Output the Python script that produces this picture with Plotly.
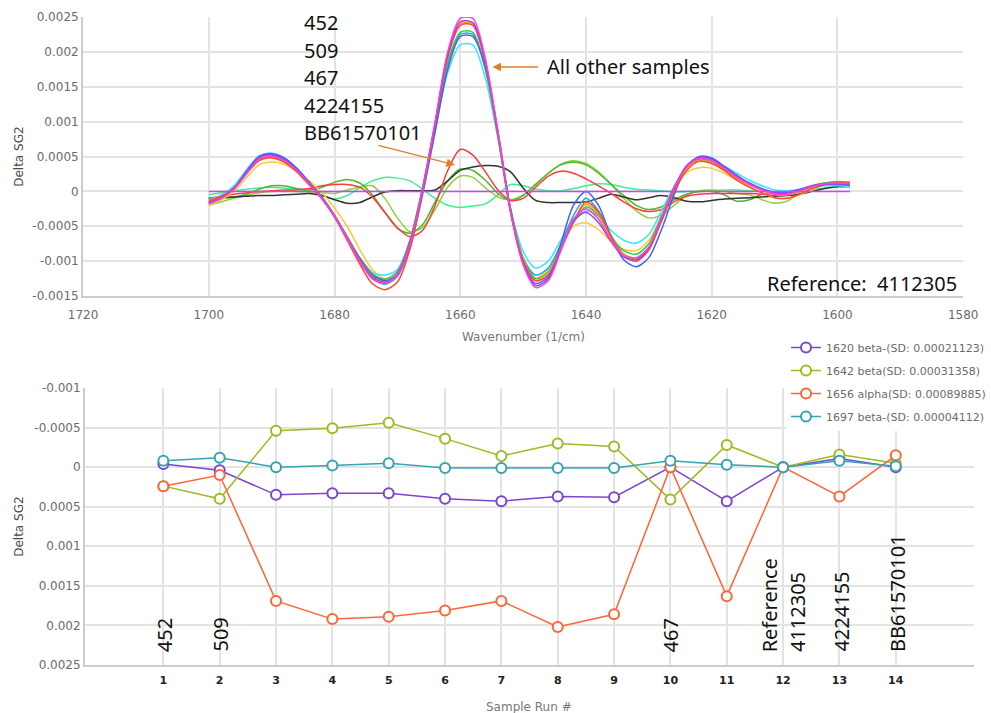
import plotly.graph_objects as go

W, H = 991, 713


def px(x):
    return x / W


def py(y):
    return 1 - y / H


# ---------------- top chart data (Delta SG2, in units of 1e-4) ----------------
wavenumber = [1700, 1698, 1696, 1694, 1692, 1690, 1688, 1686, 1684, 1682,
              1680, 1678, 1676, 1674, 1672, 1670, 1668, 1666, 1664, 1662,
              1660, 1658, 1656, 1654, 1652, 1650, 1648, 1646, 1644, 1642,
              1640, 1638, 1636, 1634, 1632, 1630, 1628, 1626, 1624, 1622,
              1620, 1618, 1616, 1614, 1612, 1610, 1608, 1606, 1604, 1602,
              1600, 1598]

# outlier samples (452, 509, 467, 4224155, BB61570101)
out_red = [-1.0, -0.7, -0.4, -0.2, 0.0, 0.1, 0.2, 0.2, 0.4, 0.8,
           1.0, 1.0, 0.6, -0.8, -3.0, -5.2, -6.5, -5.6, -2.0, 3.0,
           6.0, 5.2, 2.8, 0.2, -1.3, -1.0, 0.6, 2.2, 2.9, 2.6,
           1.8, 0.8, -0.3, -1.5, -2.5, -2.9, -2.6, -1.5, -0.7, -0.4,
           -0.3, -0.3, -0.3, -0.3, -0.4, -0.6, -0.5, 0.0, 0.6, 1.0,
           1.2, 1.2]
out_black = [-1.0, -0.9, -0.8, -0.7, -0.6, -0.6, -0.5, -0.4, -0.3, -0.6,
             -1.2, -1.7, -1.6, -0.8, -0.1, 0.1, 0.1, 0.1, 0.2, 1.5,
             3.0, 3.5, 3.7, 3.6, 2.8, 0.5, -1.3, -1.6, -1.6, -1.6,
             -1.5, -1.0, -0.4, -0.8, -1.2, -0.9, -0.6, -0.9, -1.4, -1.5,
             -1.3, -1.1, -1.0, -0.9, -0.8, -0.7, -0.6, -0.4, 0.0, 0.4,
             0.7, 0.8]
out_green = [-1.2, -1.0, -0.8, -0.4, 0.3, 0.8, 0.8, 0.4, 0.2, 0.6,
             1.3, 1.7, 1.2, -0.5, -3.0, -5.3, -6.0, -4.8, -1.5, 1.5,
             3.2, 3.0, 1.6, -0.3, -1.3, -0.6, 1.0, 2.6, 3.8, 4.2,
             3.8, 2.6, 1.0, -0.6, -2.0, -2.6, -2.2, -1.2, -0.4, 0.0,
             0.0, -0.5, -1.4, -1.2, -0.4, -0.2, -0.5, 0.1, 0.8, 1.2,
             1.4, 1.3]
out_lime = [-2.0, -1.5, -1.0, -0.6, -0.2, 0.0, 0.0, 0.0, -0.1, -0.2,
            -0.3, 0.2, 0.6, 0.8, -1.0, -3.8, -5.8, -5.2, -2.6, 0.6,
            2.2, 2.0, 0.5, -0.8, -1.2, -0.5, 1.0, 2.6, 3.9, 4.4,
            4.0, 2.8, 1.0, -1.0, -2.8, -3.8, -3.4, -2.0, -0.6, 0.1,
            0.2, 0.0, -0.3, -0.5, -1.2, -1.7, -1.4, -0.2, 0.6, 1.1,
            1.3, 1.3]
out_mint = [-0.5, -0.2, 0.1, 0.3, 0.5, 0.6, 0.5, 0.3, 0.0, -0.6,
            -1.1, -0.6, 0.5, 1.5, 2.0, 1.9, 1.5, 0.3, -1.0, -2.0,
            -2.3, -2.1, -1.8, -0.5, 1.0, 0.8, 0.3, 0.1, 0.1, 0.4,
            0.8, 1.1, 1.0, 0.6, 0.3, 0.2, 0.1, -0.1, 0.0, 0.0,
            0.1, 0.2, 0.2, 0.1, 0.0, 0.0, 0.0, 0.1, 0.3, 0.5,
            0.6, 0.6]
# reference sample 4112305 (difference to itself)
ref_violet = [0.0, 0.0, 0.0, 0.0, 0.0, 0.0, 0.0, 0.0, 0.0, 0.0,
              0.0, 0.0, 0.0, 0.0, 0.0, 0.0, 0.0, 0.0, 0.0, 0.0,
              0.0, 0.0, 0.0, 0.0, 0.0, 0.0, 0.0, 0.0, 0.0, 0.0,
              0.0, 0.0, 0.0, 0.0, 0.0, 0.0, 0.0, 0.0, 0.0, 0.0,
              0.0, 0.0, 0.0, 0.0, 0.0, 0.0, 0.0, 0.0, 0.0, 0.0,
              0.0, 0.0]

# all other samples
main_magenta = [-1.8, -1.0, 0.3, 2.5, 4.6, 5.0, 4.4, 3.0, 1.1, -1.0,
                -3.6, -6.8, -10.0, -12.5, -13.2, -12.0, -7.5, 0.3, 10.0, 20.0,
                24.8, 24.8, 19.0, 8.5, -3.0, -10.5, -13.8, -12.8, -8.5, -4.0,
                -2.5, -4.0, -7.0, -9.2, -9.5, -8.0, -3.8, 0.4, 3.5, 4.7,
                4.4, 3.3, 2.0, 1.0, 0.2, -0.4, -0.4, 0.1, 0.7, 1.1,
                1.2, 1.1]
main_purple = [-1.6, -0.9, 0.4, 2.8, 4.9, 5.3, 4.6, 3.1, 1.1, -1.0,
               -3.6, -6.7, -9.8, -12.3, -13.0, -11.8, -7.2, 0.4, 9.8, 19.6,
               24.3, 24.2, 18.6, 8.3, -2.8, -10.2, -13.2, -12.2, -8.3, -4.3,
               -3.0, -4.5, -7.2, -9.4, -9.8, -8.2, -3.9, 0.5, 3.7, 4.9,
               4.6, 3.5, 2.2, 1.1, 0.3, -0.2, -0.2, 0.2, 0.7, 1.0,
               1.1, 1.0]
main_blue = [-1.7, -1.0, 0.4, 2.9, 5.0, 5.4, 4.8, 3.3, 1.3, -0.8,
             -3.4, -6.5, -9.6, -12.0, -12.8, -12.0, -8.0, -0.5, 8.5, 17.5,
             22.2, 22.2, 17.8, 8.6, -2.6, -10.3, -13.5, -12.5, -7.5, -2.0,
             0.0, -2.0, -6.5, -9.8, -10.8, -9.5, -5.5, -0.5, 3.4, 5.0,
             4.8, 3.6, 2.3, 1.2, 0.4, -0.1, -0.1, 0.3, 0.8, 1.1,
             1.1, 1.0]
main_red = [-1.3, -0.7, 0.5, 2.6, 4.4, 4.8, 4.2, 2.8, 0.9, -1.1,
            -3.7, -7.0, -10.4, -13.2, -14.1, -13.0, -8.3, 0.0, 9.6, 19.2,
            23.8, 23.8, 18.4, 8.0, -3.0, -10.0, -12.8, -12.0, -8.4, -4.4,
            -1.5, -3.0, -6.5, -9.3, -10.0, -8.4, -4.2, 0.0, 3.0, 4.3,
            4.0, 3.0, 1.6, 0.6, -0.2, -0.9, -1.0, -0.4, 0.4, 1.0,
            1.2, 1.2]
main_orange = [-1.4, -0.8, 0.4, 2.6, 4.5, 4.9, 4.3, 2.9, 1.0, -1.0,
               -3.5, -6.6, -9.8, -12.2, -13.0, -11.9, -7.4, 0.3, 9.8, 19.4,
               24.0, 24.0, 18.5, 8.3, -2.7, -9.8, -12.8, -11.8, -8.2, -4.3,
               -1.8, -3.3, -6.6, -9.0, -9.6, -8.0, -3.8, 0.3, 3.3, 4.4,
               4.1, 3.0, 1.8, 0.9, 0.2, -0.4, -0.5, 0.0, 0.6, 1.0,
               1.2, 1.2]
main_yellow = [-2.0, -1.2, 0.0, 2.0, 3.8, 4.2, 3.9, 2.9, 1.5, -0.2,
               -2.4, -5.0, -8.3, -11.2, -12.5, -12.0, -7.8, 0.0, 9.6, 19.3,
               24.0, 23.9, 18.3, 8.0, -2.8, -9.8, -12.5, -11.0, -7.8, -5.0,
               -4.5, -5.5, -7.2, -8.3, -8.5, -7.0, -3.6, 0.2, 2.7, 3.4,
               3.3, 2.6, 1.6, 0.6, -0.2, -0.9, -1.0, -0.5, 0.3, 0.9,
               1.1, 1.1]
main_green = [-1.5, -0.8, 0.5, 2.8, 4.8, 5.2, 4.5, 3.0, 1.0, -1.0,
              -3.5, -6.5, -9.5, -11.8, -12.6, -11.5, -7.0, 0.5, 9.5, 18.5,
              22.8, 22.8, 17.5, 8.0, -2.5, -9.5, -12.5, -11.5, -8.0, -4.5,
              -2.2, -3.5, -6.5, -8.5, -9.0, -7.5, -3.5, 0.5, 3.5, 4.6,
              4.3, 3.2, 2.0, 1.0, 0.3, -0.3, -0.3, 0.2, 0.8, 1.2,
              1.3, 1.2]
main_cyan = [-1.2, -0.5, 0.8, 3.1, 5.1, 5.5, 4.8, 3.3, 1.2, -0.9,
             -3.4, -6.5, -9.5, -11.6, -12.0, -11.2, -7.0, 0.3, 8.8, 17.0,
             21.0, 21.0, 16.2, 7.5, -2.4, -8.6, -11.0, -10.0, -7.0, -4.0,
             -2.8, -3.6, -5.6, -7.0, -7.4, -6.2, -2.8, 0.7, 3.4, 4.4,
             4.4, 3.6, 2.6, 1.6, 0.8, 0.2, 0.1, 0.3, 0.6, 0.8,
             0.8, 0.7]
main_azure = [-1.6, -0.9, 0.4, 2.8, 4.9, 5.3, 4.7, 3.2, 1.2, -0.9,
              -3.5, -6.7, -10.0, -12.5, -13.3, -12.2, -7.6, 0.0, 9.2, 18.2,
              22.5, 22.5, 17.5, 8.0, -2.6, -9.6, -12.0, -11.0, -7.6, -3.5,
              -1.0, -2.8, -6.3, -9.0, -9.6, -8.2, -4.3, 0.0, 3.3, 4.8,
              4.6, 3.5, 2.2, 1.1, 0.3, -0.2, -0.2, 0.2, 0.7, 1.0,
              1.0, 0.9]

spectra = [
    (out_mint, "#3df08f"),
    (out_lime, "#8fd13a"),
    (out_green, "#49b92e"),
    (out_black, "#333333"),
    (out_red, "#ff3b3b"),
    (main_yellow, "#ffc933"),
    (main_cyan, "#3ae3ff"),
    (main_azure, "#2aa3f0"),
    (main_green, "#36c846"),
    (main_blue, "#3f63f5"),
    (main_orange, "#ff9a1a"),
    (main_red, "#ff4a2a"),
    (main_purple, "#9a40ff"),
    (main_magenta, "#ff3fd0"),
    (ref_violet, "#cc44ff"),
]

# ---------------- bottom chart data ----------------
sample_run = [1, 2, 3, 4, 5, 6, 7, 8, 9, 10, 11, 12, 13, 14]
beta_1620 = [-0.00004, 0.00004, 0.00035, 0.00033, 0.00033, 0.00040, 0.00043,
             0.00037, 0.00038, 0.00000, 0.00043, 0.00000, -0.00011, 0.00000]
beta_1642 = [0.00024, 0.00040, -0.00046, -0.00049, -0.00056, -0.00036, -0.00014,
             -0.00030, -0.00026, 0.00041, -0.00028, 0.00000, -0.00016, -0.00005]
alpha_1656 = [0.00024, 0.00010, 0.00169, 0.00192, 0.00189, 0.00181, 0.00169,
              0.00202, 0.00186, 0.00000, 0.00163, 0.00000, 0.00037, -0.00015]
beta_1697 = [-0.00008, -0.00012, 0.00000, -0.00002, -0.00005, 0.00001, 0.00001,
             0.00001, 0.00001, -0.00008, -0.00003, 0.00000, -0.00008, -0.00001]

bottom_series = [
    ("1620 beta-(SD: 0.00021123)", beta_1620, "#7d44cc"),
    ("1642 beta(SD: 0.00031358)", beta_1642, "#9cbb22"),
    ("1656 alpha(SD: 0.00089885)", alpha_1656, "#ff6536"),
    ("1697 beta-(SD: 0.00004112)", beta_1697, "#34a3b3"),
]

top_xticks = [1720, 1700, 1680, 1660, 1640, 1620, 1600, 1580]
top_yticks = [0.0025, 0.002, 0.0015, 0.001, 0.0005, 0, -0.0005, -0.001, -0.0015]
top_ylabels = ["0.0025", "0.002", "0.0015", "0.001", "0.0005", "0",
               "-0.0005", "-0.001", "-0.0015"]
bot_yticks = [-0.001, -0.0005, 0, 0.0005, 0.001, 0.0015, 0.002, 0.0025]
bot_ylabels = ["-0.001", "-0.0005", "0", "0.0005", "0.001", "0.0015",
               "0.002", "0.0025"]

fig = go.Figure()

for vals, color in spectra:
    fig.add_trace(go.Scatter(
        x=wavenumber, y=[v * 1e-4 for v in vals], mode="lines",
        line=dict(color=color, width=1.5, shape="spline", smoothing=0.8),
        xaxis="x", yaxis="y", showlegend=False, hoverinfo="skip"))

for i, (name, vals, color) in enumerate(bottom_series):
    fig.add_trace(go.Scatter(
        x=sample_run, y=vals, mode="lines+markers", name=name,
        line=dict(color=color, width=1.5),
        marker=dict(symbol="circle", size=10, color="white",
                    line=dict(color=color, width=2)),
        xaxis="x2", yaxis="y2", legendgroup=f"g{i}"))

GRID = "#e3e3e3"
AXL = "#cccccc"
TICKF = dict(family="DejaVu Sans", size=12, color="#6b6b6b")
NOTICK = "rgba(0,0,0,0)"

fig.update_layout(
    width=W, height=H,
    margin=dict(l=0, r=0, t=0, b=0),
    paper_bgcolor="white", plot_bgcolor="white",
    xaxis=dict(domain=[px(84), px(974)], range=[1720, 1580], anchor="y",
               tickvals=top_xticks, ticktext=[str(t) for t in top_xticks],
               showgrid=True, gridcolor=GRID, gridwidth=1.5, zeroline=False,
               showline=True, linecolor=AXL, linewidth=2,
               tickfont=TICKF, automargin=False,
               ticks="outside", ticklen=7, tickcolor=NOTICK),
    yaxis=dict(domain=[py(296), py(17)], range=[-0.0015, 0.0025], anchor="x",
               tickvals=top_yticks, ticktext=top_ylabels,
               showgrid=True, gridcolor=GRID, gridwidth=1.5, zeroline=False,
               showline=True, linecolor=AXL, linewidth=2,
               tickfont=TICKF, automargin=False, ticks=""),
    xaxis2=dict(domain=[px(86), px(985)], range=[-0.39, 15.39], anchor="y2",
                tickvals=sample_run, ticktext=[str(s) for s in sample_run],
                showgrid=True, gridcolor=GRID, gridwidth=1.5, zeroline=False,
                showline=True, linecolor=AXL, linewidth=2,
                tickfont=dict(family="DejaVu Sans", size=11, color="#222222",
                              weight="bold"),
                automargin=False, ticks="outside", ticklen=4,
                tickcolor=NOTICK),
    yaxis2=dict(domain=[py(665), py(388)], range=[0.0025, -0.001], anchor="x2",
                tickvals=bot_yticks, ticktext=bot_ylabels,
                showgrid=True, gridcolor=GRID, gridwidth=1.5, zeroline=False,
                showline=True, linecolor=AXL, linewidth=2,
                tickfont=TICKF, automargin=False, ticks=""),
    legend=dict(x=px(795), y=py(333), xanchor="left", yanchor="top",
                bgcolor="white", borderwidth=0, tracegroupgap=4,
                font=dict(family="DejaVu Sans", size=11, color="#6b6b6b")),
    showlegend=True,
)

ann = []
AX_T = dict(family="DejaVu Sans", size=12, color="#4a4a4a")
ann.append(dict(x=px(19), y=py(157), text="Delta SG2", textangle=-90,
                font=AX_T, showarrow=False))
ann.append(dict(x=px(19), y=py(527), text="Delta SG2", textangle=-90,
                font=AX_T, showarrow=False))
ann.append(dict(x=px(529), y=py(337), text="Wavenumber (1/cm)",
                font=dict(family="DejaVu Sans", size=12, color="#777777"),
                showarrow=False))
ann.append(dict(x=px(535), y=py(707), text="Sample Run #",
                font=dict(family="DejaVu Sans", size=12, color="#777777"),
                showarrow=False))

BIG = dict(family="Noto Sans", size=20, color="#111111")
outlier_names = ["452", "509", "467", "4224155", "BB61570101"]
name_y = [23, 51, 78, 105, 132]
for nm, yy in zip(outlier_names, name_y):
    ann.append(dict(x=px(305), y=py(yy), text=nm, xanchor="left",
                    yanchor="middle", font=BIG, showarrow=False))
ann.append(dict(x=px(551), y=py(67), text="All other samples", xanchor="left",
                yanchor="middle", font=BIG, showarrow=False))
ann.append(dict(x=px(970), y=py(283), text="Reference:  4112305",
                xanchor="right", yanchor="middle", font=BIG, showarrow=False))

ARROW = "#df7f2c"
ann.append(dict(x=px(498), y=py(67), ax=47, ay=0, text="", showarrow=True,
                arrowhead=2, arrowsize=1.3, arrowwidth=1.3, arrowcolor=ARROW))
ann.append(dict(x=px(460), y=py(165), ax=-78, ay=-20, text="", showarrow=True,
                arrowhead=2, arrowsize=1.3, arrowwidth=1.3, arrowcolor=ARROW))

rot_labels = [("452", 166), ("509", 222), ("467", 678), ("Reference", 778),
              ("4112305", 806), ("4224155", 850), ("BB61570101", 907)]
for txt, xx in rot_labels:
    ann.append(dict(x=px(xx), y=py(654), text=txt, textangle=-90,
                    xanchor="center", yanchor="bottom", font=BIG,
                    showarrow=False))

for a in ann:
    a.setdefault("xref", "paper")
    a.setdefault("yref", "paper")
    a.setdefault("xanchor", "center")
    a.setdefault("yanchor", "middle")
fig.update_layout(annotations=ann)

fig.write_html("out.html",
               config={"displayModeBar": False},
               post_script="document.body.style.margin='0px';"
                           "document.body.style.overflow='hidden';")
